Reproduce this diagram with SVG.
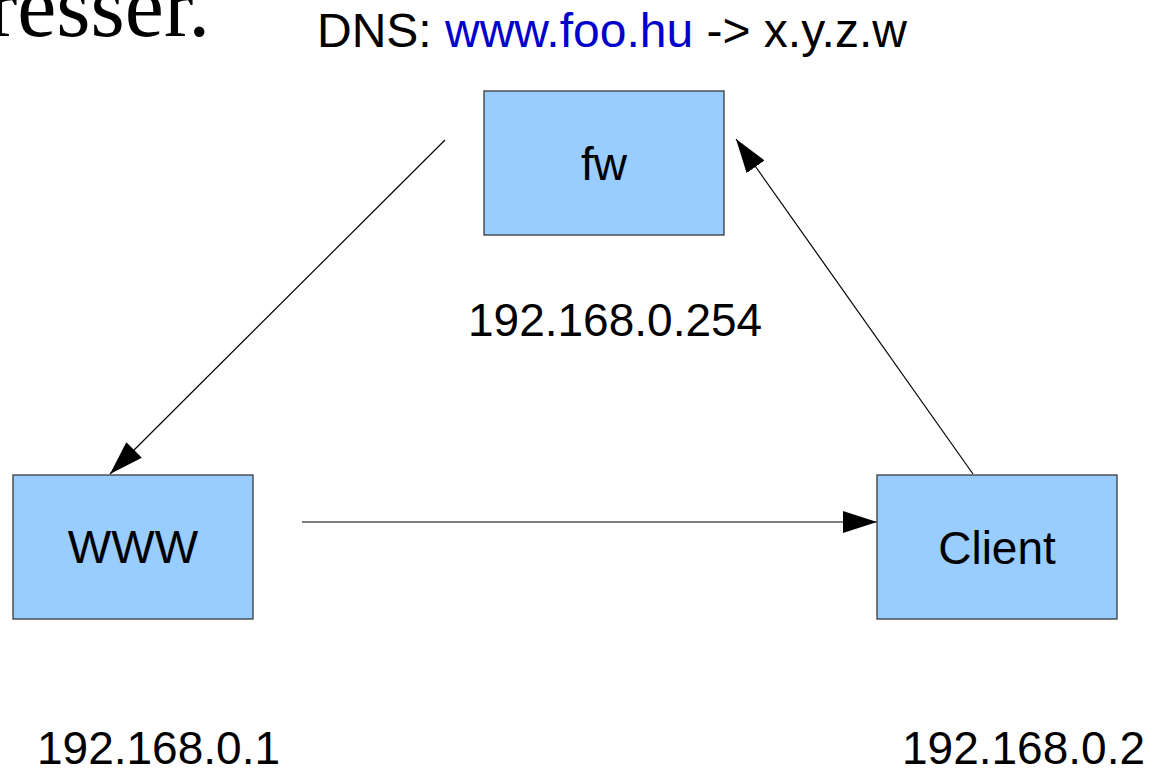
<svg xmlns="http://www.w3.org/2000/svg" width="1153" height="768" viewBox="0 0 1153 768">
<style>
.box{fill:#99ccff;stroke:#3a3a3a;stroke-width:1.3}
.t{font-family:"Liberation Sans",Arial,sans-serif;font-size:46px;fill:#000}
.c{stroke:#000;stroke-width:1.2;fill:none}
</style>
<defs>
<marker id="ah" markerUnits="userSpaceOnUse" markerWidth="36" markerHeight="24" refX="34" refY="11" orient="auto">
<path d="M0,0 L34,11 L0,22 Z" fill="#000"/>
</marker>
</defs>
<rect width="1153" height="768" fill="#fff"/>
<text x="-12" y="36" font-family="Liberation Serif,'Times New Roman',serif" font-size="88" fill="#000">resser.</text>
<text x="317" y="47" class="t" style="font-size:48px">DNS: <tspan fill="#0000cc">www.foo.hu</tspan> -&gt; x.y.z.w</text>
<g id="connectors">
<line class="c" x1="445" y1="140" x2="110" y2="474" marker-end="url(#ah)"/>
<line class="c" x1="302" y1="522" x2="877" y2="522" marker-end="url(#ah)"/>
<line class="c" x1="973" y1="474" x2="736" y2="139" marker-end="url(#ah)"/>
</g>
<g id="fw">
<rect class="box" x="484" y="91" width="240" height="144"/>
<text class="t" x="604" y="180" text-anchor="middle">fw</text>
</g>
<g id="www">
<rect class="box" x="13" y="475" width="240" height="144"/>
<text class="t" x="133" y="563" text-anchor="middle">WWW</text>
</g>
<g id="client">
<rect class="box" x="877" y="475" width="240" height="144"/>
<text class="t" x="997" y="564" text-anchor="middle">Client</text>
</g>
<text class="t" x="468" y="336">192.168.0.254</text>
<text class="t" x="37" y="764">192.168.0.1</text>
<text class="t" x="902" y="764">192.168.0.2</text>
</svg>
